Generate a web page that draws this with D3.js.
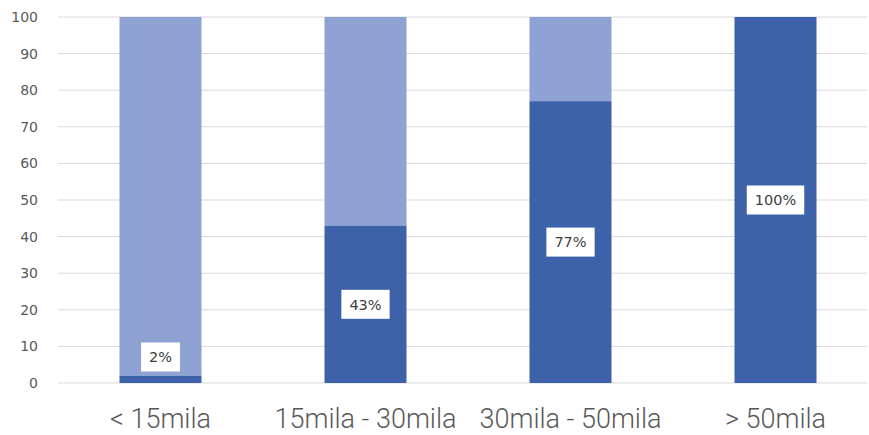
<!DOCTYPE html>
<html><head><meta charset="utf-8">
<script src="https://cdn.jsdelivr.net/npm/d3@7"></script>
<style>body{margin:0;background:#fff}svg{display:block}</style>
</head><body>
<script>
const categories = ["< 15mila", "15mila - 30mila", "30mila - 50mila", "> 50mila"];
const sharePct = [2, 43, 77, 100];
const restPct = [98, 57, 23, 0];
const yTicks = [0, 10, 20, 30, 40, 50, 60, 70, 80, 90, 100];

const W = 869, H = 435;
const svg = d3.select("body").append("svg").attr("width", W).attr("height", H);
const x = d3.scaleBand().domain(categories).range([58, 878]).paddingInner(0.6).paddingOuter(0.3);
const y = d3.scaleLinear().domain([0, 100]).range([383, 17]);

const grid = svg.append("g");
grid.selectAll("line").data(yTicks).join("line")
  .attr("x1", 58).attr("x2", 867)
  .attr("y1", d => y(d)).attr("y2", d => y(d))
  .attr("stroke", "#d9d9d9").attr("stroke-width", 1);

const yAxis = svg.append("g").attr("transform", "translate(58,0)")
  .call(d3.axisLeft(y).tickValues(yTicks).tickSize(0).tickPadding(20));
yAxis.select(".domain").remove();
yAxis.selectAll("text").attr("font-family", "'DejaVu Sans', sans-serif").attr("font-size", 14).attr("fill", "#595959");

const rows = categories.map((c, i) => ({c, a: sharePct[i], b: restPct[i]}));
svg.append("g").selectAll("rect").data(rows).join("rect")
  .attr("x", d => x(d.c)).attr("width", x.bandwidth())
  .attr("y", d => y(d.a + d.b)).attr("height", d => y(d.a) - y(d.a + d.b))
  .attr("fill", "#8FA2D4");
svg.append("g").selectAll("rect").data(rows).join("rect")
  .attr("x", d => x(d.c)).attr("width", x.bandwidth())
  .attr("y", d => y(d.a)).attr("height", d => y(0) - y(d.a))
  .attr("fill", "#3D62AA");

const lab = svg.append("g").selectAll("g").data(rows).join("g")
  .attr("transform", d => {
    let cy = y(d.a / 2);
    cy = Math.min(cy, y(0) - 26);
    return `translate(${x(d.c) + x.bandwidth() / 2},${cy})`;
  });
const rects = lab.append("rect").attr("fill", "#fff");
const txt = lab.append("text").attr("text-anchor", "middle").attr("dy", "0.36em")
  .attr("font-family", "'DejaVu Sans', sans-serif").attr("font-size", 14.5).attr("fill", "#404040")
  .text(d => d.a + "%");
txt.each(function() {
  const w = this.getComputedTextLength();
  d3.select(this.parentNode).select("rect")
    .attr("x", -w / 2 - 8).attr("width", w + 16).attr("y", -14.5).attr("height", 29);
});

const xAxis = svg.append("g").attr("transform", "translate(0,383)")
  .call(d3.axisBottom(x).tickSize(0).tickPadding(26));
xAxis.select(".domain").remove();
xAxis.selectAll("text").attr("font-family", "Roboto, sans-serif").attr("font-weight", 300)
  .attr("font-size", 27).attr("fill", "#595959");
</script>
</body></html>
